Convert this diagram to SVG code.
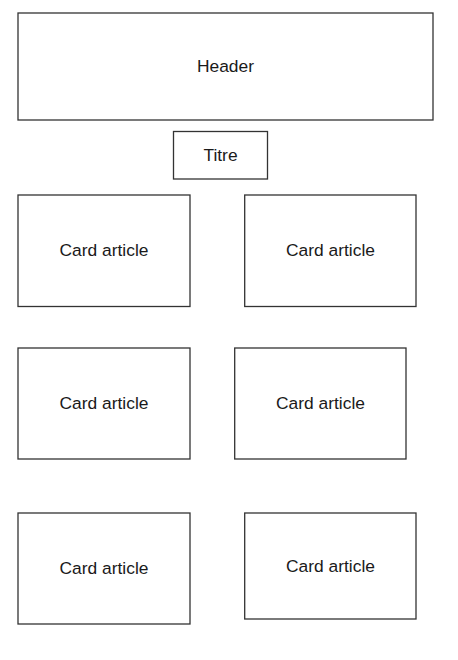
<svg xmlns="http://www.w3.org/2000/svg" width="458" height="660" viewBox="0 0 458 660">
<style>
.box{fill:#ffffff;stroke:#333333;stroke-width:1.3}
.lbl{font-family:"Liberation Sans",Arial,sans-serif;font-size:17.4px;fill:#1a1a1a;text-anchor:middle;dominant-baseline:central}
</style>
<rect width="458" height="660" fill="#ffffff"/>
<g id="connectors"></g>
<g id="header"><rect class="box" x="18" y="13" width="415" height="107"/><text class="lbl" x="225.5" y="66">Header</text></g>
<g id="titre"><rect class="box" x="173.5" y="131.5" width="94" height="47.5"/><text class="lbl" x="220.5" y="155">Titre</text></g>
<g id="card1"><rect class="box" x="18" y="195" width="172" height="111.5"/><text class="lbl" x="104" y="250">Card article</text></g>
<g id="card2"><rect class="box" x="244.7" y="195" width="171.3" height="111.5"/><text class="lbl" x="330.5" y="250">Card article</text></g>
<g id="card3"><rect class="box" x="18" y="348" width="172" height="111"/><text class="lbl" x="104" y="402.5">Card article</text></g>
<g id="card4"><rect class="box" x="234.7" y="348" width="171.3" height="111"/><text class="lbl" x="320.5" y="402.5">Card article</text></g>
<g id="card5"><rect class="box" x="18" y="513" width="172" height="111"/><text class="lbl" x="104" y="567.5">Card article</text></g>
<g id="card6"><rect class="box" x="244.7" y="513" width="171.3" height="106"/><text class="lbl" x="330.5" y="565.5">Card article</text></g>
</svg>
